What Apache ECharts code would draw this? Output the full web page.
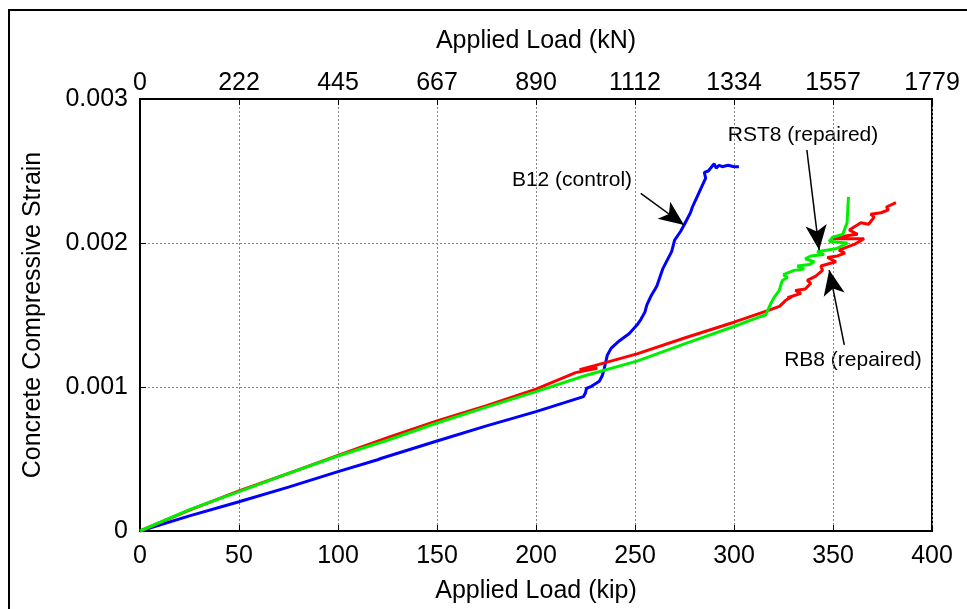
<!DOCTYPE html>
<html>
<head>
<meta charset="utf-8">
<script src="https://cdn.jsdelivr.net/npm/echarts@6/dist/echarts.min.js"></script>
<style>
  html, body { margin: 0; padding: 0; background: #fff; }
  #chart { width: 967px; height: 609px; }
</style>
</head>
<body>
<div id="chart"></div>
<script>
// applied load (kip), concrete compressive strain
const b12 = [
  [0, 0], [25, 0.000105], [50, 0.000203], [75, 0.000305], [100, 0.000412],
  [120, 0.000495], [122, 0.000505], [150, 0.000625], [175, 0.00073], [200, 0.000829],
  [224, 0.000933], [225, 0.00096], [225.5, 0.00099], [228, 0.001005], [232, 0.00104],
  [233.5, 0.00108], [234.5, 0.00113], [236, 0.00122], [238, 0.00127], [242, 0.00132],
  [247, 0.00137], [251, 0.00143], [253, 0.00147], [255, 0.00152], [256, 0.00157],
  [258, 0.00163], [261, 0.0017], [262, 0.00174], [264, 0.00182], [267, 0.0019],
  [268.5, 0.00194], [270, 0.00202], [273, 0.00208], [275, 0.00213], [278, 0.00221],
  [279, 0.00225], [281, 0.00231], [284, 0.0024], [285.7, 0.00245], [285, 0.00249],
  [287, 0.0025], [288, 0.00251], [290, 0.00255], [291, 0.00252], [292.5, 0.00254],
  [294, 0.00253], [297, 0.00254], [300, 0.00253], [302.5, 0.00253]
]
const rb8 = [
  [0, 0], [25, 0.000145], [50, 0.000278], [75, 0.0004], [100, 0.000525],
  [125, 0.000648], [150, 0.000765], [175, 0.00087], [200, 0.000985], [220, 0.0011],
  [231, 0.00113], [222, 0.00112], [230, 0.00115], [251, 0.00123], [275, 0.00134],
  [300, 0.00145], [317, 0.00153], [323, 0.00156], [326, 0.0016], [329.5, 0.00163],
  [327, 0.00162], [333.8, 0.00165], [331, 0.00167], [336, 0.00168], [338.8, 0.00172],
  [337, 0.00174], [341.3, 0.00177], [344.7, 0.00181], [343.9, 0.00184], [351.5, 0.00187],
  [347.2, 0.0019], [352.3, 0.00191], [356, 0.00193], [353, 0.00195], [360.7, 0.00199],
  [365.7, 0.00203], [349.8, 0.00203], [357, 0.00205], [362.4, 0.00206], [358.2, 0.00209],
  [364.1, 0.00214], [368, 0.00213], [370.8, 0.00218], [369, 0.0022], [374.2, 0.00221],
  [378, 0.00223], [377, 0.00225], [381.8, 0.00228]
]
const rst8 = [
  [0, 0], [25, 0.000148], [50, 0.000273], [75, 0.0004], [100, 0.000521],
  [125, 0.00063], [150, 0.00075], [175, 0.00086], [200, 0.000968], [225, 0.00108],
  [251, 0.00118], [275, 0.0013], [300, 0.00142], [313.5, 0.00149], [316, 0.0015],
  [318.6, 0.00158], [320.2, 0.00162], [322.8, 0.00167], [324.4, 0.00174], [327, 0.00176],
  [325, 0.00178], [330.3, 0.00181], [335.4, 0.00182], [332, 0.00184], [338, 0.00185],
  [340.5, 0.00187], [336, 0.00189], [338.8, 0.00191], [345.5, 0.00192], [342, 0.00194],
  [351.5, 0.00196], [357.3, 0.002], [348.1, 0.00201], [349.8, 0.00204], [354.9, 0.00206],
  [357.1, 0.00214], [357.8, 0.00232]
]
// annotation arrows: [tail, tip] in data units
const arrowB12 = [[252.9, 0.002345], [274.8, 0.002125]]
const arrowRST8 = [[336.8, 0.002646], [343, 0.001951]]
const arrowRB8 = [[355.7, 0.001292], [348.1, 0.001812]]

const KIP_TO_KN = 4.448222
const font = 'Liberation Sans, Arial, sans-serif'

const chart = echarts.init(document.getElementById('chart'))

const arrow = (pts) => [
  { coord: pts[0], symbol: 'none' },
  { coord: pts[1], symbol: 'arrow', symbolSize: [16, 25] }
]

chart.setOption({
  animation: false,
  grid: {
    left: 140, right: 35, top: 99, bottom: 78,
    show: true, borderColor: '#000', borderWidth: 2
  },
  xAxis: [{
    type: 'value', position: 'bottom', min: 0, max: 400, interval: 50,
    name: 'Applied Load (kip)', nameLocation: 'middle', nameGap: 48,
    nameTextStyle: { fontSize: 25, color: '#000', fontFamily: font },
    axisLine: { lineStyle: { color: '#000', width: 2 } },
    axisTick: { inside: true, length: 6, lineStyle: { color: '#000' } },
    axisLabel: { fontSize: 25, color: '#000', fontFamily: font, margin: 13 },
    splitLine: { show: true, lineStyle: { color: '#888', type: [2, 2], width: 1 } }
  }, {
    type: 'value', position: 'top', min: 0, max: 400, interval: 50,
    name: 'Applied Load (kN)', nameLocation: 'middle', nameGap: 45,
    nameTextStyle: { fontSize: 25, color: '#000', fontFamily: font },
    axisLine: { lineStyle: { color: '#000', width: 2 } },
    axisTick: { inside: true, length: 6, lineStyle: { color: '#000' } },
    axisLabel: {
      fontSize: 25, color: '#000', fontFamily: font, margin: 3,
      formatter: v => String(Math.round(v * KIP_TO_KN))
    },
    splitLine: { show: false }
  }],
  yAxis: {
    type: 'value', min: 0, max: 0.003, interval: 0.001,
    name: 'Concrete Compressive Strain', nameLocation: 'middle', nameGap: 94,
    nameTextStyle: { fontSize: 25, color: '#000', fontFamily: font },
    axisLine: { lineStyle: { color: '#000', width: 2 } },
    axisTick: { inside: true, length: 6, lineStyle: { color: '#000' } },
    axisLabel: {
      fontSize: 25, color: '#000', fontFamily: font, margin: 12,
      formatter: v => v === 0 ? '0' : v.toFixed(3)
    },
    splitLine: { show: true, lineStyle: { color: '#888', type: [2, 2], width: 1 } }
  },
  series: [{
    name: 'B12 (control)', type: 'line', data: b12, showSymbol: false,
    lineStyle: { color: '#0000ff', width: 3 },
    markLine: {
      silent: true, animation: false,
      label: { show: false },
      lineStyle: { color: '#000', width: 1.5, type: 'solid' },
      data: [arrow(arrowB12), arrow(arrowRST8), arrow(arrowRB8)]
    }
  }, {
    name: 'RB8 (repaired)', type: 'line', data: rb8, showSymbol: false,
    lineStyle: { color: '#ff0000', width: 3 }
  }, {
    name: 'RST8 (repaired)', type: 'line', data: rst8, showSymbol: false,
    lineStyle: { color: '#00ee00', width: 3 }
  }],
  graphic: [
    { type: 'rect', shape: { x: 9, y: 10, width: 1000, height: 700 }, style: { fill: 'none', stroke: '#000', lineWidth: 2 } },
    { type: 'text', x: 572, y: 180, style: { text: 'B12 (control)', font: '21px ' + font, fill: '#000', align: 'center', verticalAlign: 'middle' } },
    { type: 'text', x: 803, y: 135, style: { text: 'RST8 (repaired)', font: '21px ' + font, fill: '#000', align: 'center', verticalAlign: 'middle' } },
    { type: 'text', x: 853, y: 360, style: { text: 'RB8 (repaired)', font: '21px ' + font, fill: '#000', align: 'center', verticalAlign: 'middle' } }
  ]
})
</script>
</body>
</html>
